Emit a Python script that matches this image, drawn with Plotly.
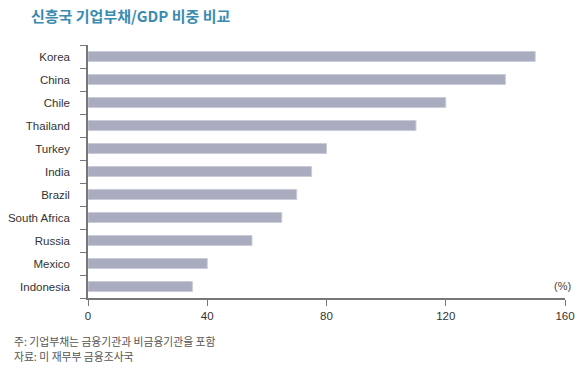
import plotly.graph_objects as go

countries = ["Korea", "China", "Chile", "Thailand", "Turkey", "India", "Brazil",
             "South Africa", "Russia", "Mexico", "Indonesia"]
values = [150, 140, 120, 110, 80, 75, 70, 65, 55, 40, 35]
x_ticks = [0, 40, 80, 120, 160]

title_text = "신흥국 기업부채/GDP 비중 비교"
note_text = "주: 기업부채는 금융기관과 비금융기관을 포함"
source_text = "자료: 미 재무부 금융조사국"
unit_text = "(%)"

W, H = 580, 369
L, T = 88, 44.5
R = W - 565
B = H - 298.5
PW, PH = W - L - R, H - T - B


def px_x(x):
    return (x - L) / PW


def px_y(y):
    return 1 - (y - T) / PH


fig = go.Figure(go.Bar(
    x=values,
    y=countries,
    orientation="h",
    width=0.43,
    marker=dict(color="#A9ABBE", line=dict(color="#C9CBD7", width=1)),
))

font_main = "Liberation Sans, Arial, Noto Sans CJK KR, sans-serif"
font_kr = "Noto Sans CJK KR, sans-serif"

fig.update_layout(
    width=W, height=H,
    margin=dict(l=L, r=R, t=T, b=B, autoexpand=False),
    paper_bgcolor="white", plot_bgcolor="white",
    showlegend=False,
    font=dict(family=font_main, size=11, color="#333333"),
    xaxis=dict(
        range=[0, 160], tickvals=x_ticks, showgrid=False, zeroline=False,
        automargin=False,
        showline=True, linecolor="#777777", linewidth=1.5,
        ticks="outside", ticklen=6, tickcolor="#777777", tickwidth=1,
        tickfont=dict(size=11.5, color="#333333"),
    ),
    yaxis=dict(
        categoryorder="array", categoryarray=countries[::-1],
        range=[-0.5, 10.5], showgrid=False, zeroline=False,
        automargin=False,
        showline=True, linecolor="#777777", linewidth=1.5,
        ticks="outside", tickson="boundaries", ticklen=6,
        tickcolor="#777777", tickwidth=1,
        ticklabelstandoff=14,
        tickfont=dict(size=11.5, color="#333333"),
    ),
    annotations=[
        dict(text="<b>" + title_text + "</b>", x=px_x(29), y=px_y(15),
             xref="paper", yref="paper",
             showarrow=False, xanchor="left", yanchor="middle",
             font=dict(family=font_kr, size=15, color="#3A8BB0")),
        dict(text=unit_text, x=px_x(573), y=px_y(286),
             xref="paper", yref="paper",
             showarrow=False, xanchor="right", yanchor="middle",
             font=dict(size=11, color="#444444")),
        dict(text=note_text, x=px_x(12), y=px_y(342),
             xref="paper", yref="paper", showarrow=False,
             xanchor="left", yanchor="middle",
             font=dict(family=font_kr, size=10.8, color="#555555")),
        dict(text=source_text, x=px_x(12), y=px_y(357),
             xref="paper", yref="paper", showarrow=False,
             xanchor="left", yanchor="middle",
             font=dict(family=font_kr, size=10.8, color="#555555")),
    ],
)

fig.write_html("out.html", config={"displayModeBar": False},
               post_script="document.body.style.margin='0';")
